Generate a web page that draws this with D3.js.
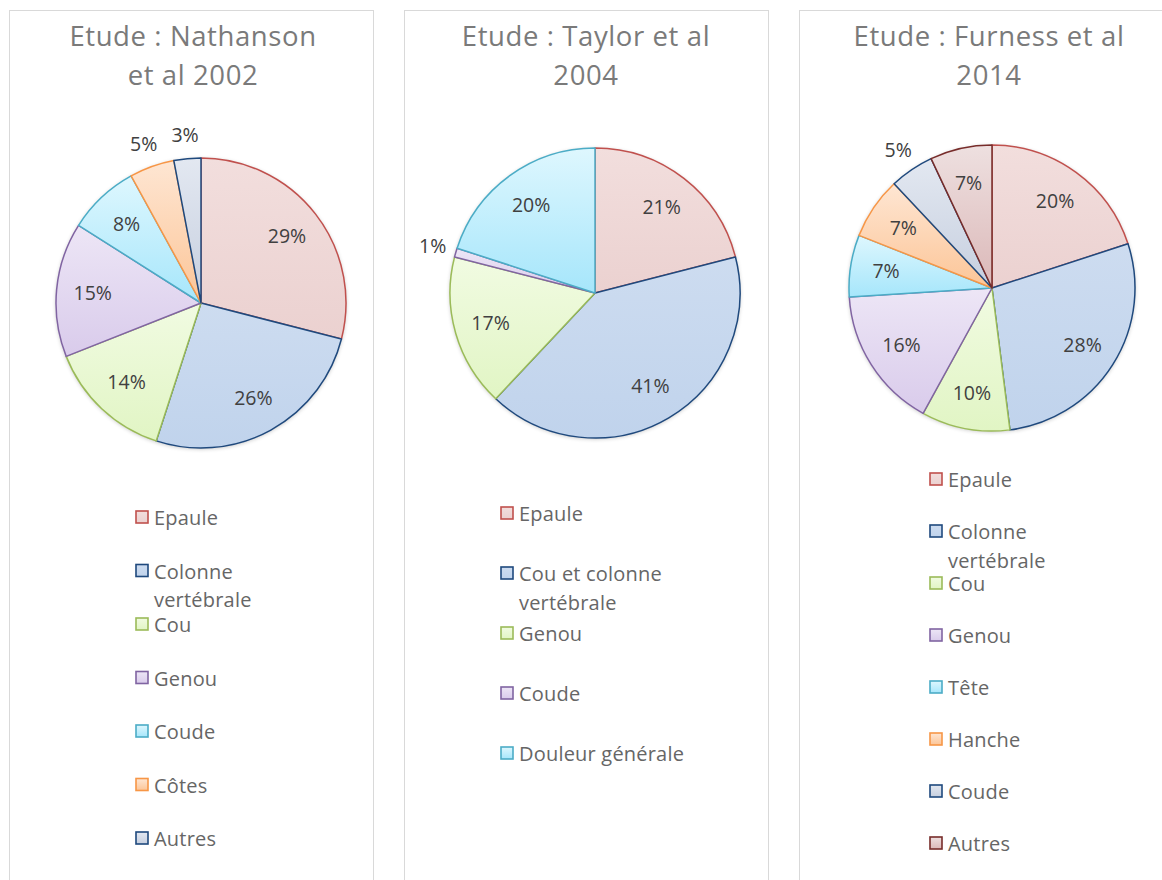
<!DOCTYPE html>
<html><head><meta charset="utf-8">
<script src="https://cdn.jsdelivr.net/npm/d3@7"></script>
<style>
body{margin:0;background:#fff;}
svg{display:block;}
text{font-family:"Open Sans", sans-serif;}
</style></head>
<body><svg id="c" width="1162" height="880"></svg>
<script>
// ---- data ----
const titles = [["Etude : Nathanson","et al 2002"],["Etude : Taylor et al","2004"],["Etude : Furness et al","2014"]];
const cats1 = ["Epaule","Colonne vertébrale","Cou","Genou","Coude","Côtes","Autres"];
const vals1 = [29,26,14,15,8,5,3];
const cats2 = ["Epaule","Cou et colonne vertébrale","Genou","Coude","Douleur générale"];
const vals2 = [21,41,17,1,20];
const cats3 = ["Epaule","Colonne vertébrale","Cou","Genou","Tête","Hanche","Coude","Autres"];
const vals3 = [20,28,10,16,7,7,5,7];
// colour keys per slice
const keys1 = ["red","navy","green","purple","aqua","orange","slate"];
const keys2 = ["red","navy","green","purple","aqua"];
const keys3 = ["red","navy","green","purple","aqua","orange","slate","maroon"];
// labels placed outside the pie
const outside1 = [false,false,false,false,false,true,true];
const outside2 = [false,false,false,true,false];
const outside3 = [false,false,false,false,false,false,true,false];

const palette = {
  red:   {stroke:"#c0504d", a:"#f2dedd", b:"#ebd1d0"},
  navy:  {stroke:"#1f497d", a:"#cddcf0", b:"#c0d3ec"},
  green: {stroke:"#9bbb59", a:"#f1fbe2", b:"#e1f5c4"},
  purple:{stroke:"#8064a2", a:"#ede6f6", b:"#d9cbeb"},
  aqua:  {stroke:"#4bacc6", a:"#def7fe", b:"#a6e6fb"},
  orange:{stroke:"#f79646", a:"#fee6d3", b:"#fcc597"},
  slate: {stroke:"#1f497d", a:"#e3e8f1", b:"#c6cfdf"},
  maroon:{stroke:"#772c2a", a:"#eee0e0", b:"#dbb8b8"}
};

const charts = [
  {cats:cats1, vals:vals1, keys:keys1, out:outside1},
  {cats:cats2, vals:vals2, keys:keys2, out:outside2},
  {cats:cats3, vals:vals3, keys:keys3, out:outside3}
];

// ---- layout ----
const layout = [
  {x0:9,  cx:201, cy:303, r:145, tx:193, legX:135, legY:518, legStep:53.5},
  {x0:404,cx:595, cy:293, r:145, tx:586, legX:500, legY:514, legStep:60},
  {x0:799,cx:992, cy:288, r:143, tx:989, legX:929, legY:480, legStep:52}
];
const panelW = 364;

const svg = d3.select("#c");
const defs = svg.append("defs");
Object.entries(palette).forEach(([k,p])=>{
  const g = defs.append("linearGradient").attr("id","g-"+k).attr("x1",0).attr("y1",0).attr("x2",0).attr("y2",1);
  g.append("stop").attr("offset","0%").attr("stop-color",p.a);
  g.append("stop").attr("offset","100%").attr("stop-color",p.b);
});
const f = defs.append("filter").attr("id","sh").attr("x","-10%").attr("y","-10%").attr("width","120%").attr("height","120%");
f.append("feGaussianBlur").attr("in","SourceAlpha").attr("stdDeviation",2).attr("result","b");
f.append("feOffset").attr("in","b").attr("dx",0).attr("dy",1).attr("result","o");
f.append("feComponentTransfer").attr("in","o").attr("result","t").append("feFuncA").attr("type","linear").attr("slope",0.25);
const m = f.append("feMerge"); m.append("feMergeNode").attr("in","t"); m.append("feMergeNode").attr("in","SourceGraphic");

charts.forEach((c,i)=>{
  const L = layout[i];
  const g = svg.append("g");
  g.append("rect").attr("x",L.x0+0.5).attr("y",10.5).attr("width",panelW).attr("height",900)
    .attr("fill","#fff").attr("stroke","#d9d9d9").attr("stroke-width",1);
  g.append("text").attr("x",L.tx).attr("y",46).attr("text-anchor","middle")
    .attr("font-size",27.5).attr("letter-spacing",0.6).attr("fill","#7a7a7a").text(titles[i][0]);
  g.append("text").attr("x",L.tx).attr("y",85).attr("text-anchor","middle")
    .attr("font-size",27.5).attr("letter-spacing",0.6).attr("fill","#7a7a7a").text(titles[i][1]);

  const data = c.vals.map((v,j)=>({v, key:c.keys[j], out:c.out[j]}));
  const pie = d3.pie().value(d=>d.v).sort(null);
  const arcs = pie(data);
  const arc = d3.arc().innerRadius(0).outerRadius(L.r);
  const inArc = d3.arc().innerRadius(L.r*0.75).outerRadius(L.r*0.75);
  const outArc = d3.arc().innerRadius(L.r+24).outerRadius(L.r+24);
  const pg = g.append("g").attr("transform",`translate(${L.cx},${L.cy})`);
  pg.append("circle").attr("r",L.r).attr("fill","#fff").attr("filter","url(#sh)");
  pg.selectAll("path").data(arcs).join("path")
    .attr("d",arc)
    .attr("fill",d=>`url(#g-${d.data.key})`)
    .attr("stroke",d=>palette[d.data.key].stroke)
    .attr("stroke-width",1.5).attr("stroke-linejoin","round");
  pg.selectAll("text").data(arcs).join("text")
    .attr("transform",d=>`translate(${(d.data.out?outArc:inArc).centroid(d)})`)
    .attr("text-anchor","middle").attr("dy","0.35em")
    .attr("font-size",19.5).attr("fill","#404040")
    .text(d=>Math.round(d.data.v)+"%");

  // legend
  let y = L.legY;
  c.cats.forEach((name,j)=>{
    const p = palette[c.keys[j]];
    const lg = g.append("g");
    lg.append("rect").attr("x",L.legX+1).attr("y",y-7).attr("width",12).attr("height",12)
      .attr("fill",`url(#g-${c.keys[j]})`).attr("stroke",p.stroke).attr("stroke-width",1.6);
    let lines = [name];
    if (name==="Colonne vertébrale") lines=["Colonne","vertébrale"];
    if (name==="Cou et colonne vertébrale") lines=["Cou et colonne","vertébrale"];
    lines.forEach((t,k)=>{
      lg.append("text").attr("x",L.legX+19).attr("y",y+k*28.5).attr("dy","0.35em")
        .attr("font-size",20).attr("letter-spacing",0.2).attr("fill","#666666").text(t);
    });
    y += L.legStep;
  });
});
</script></body></html>
